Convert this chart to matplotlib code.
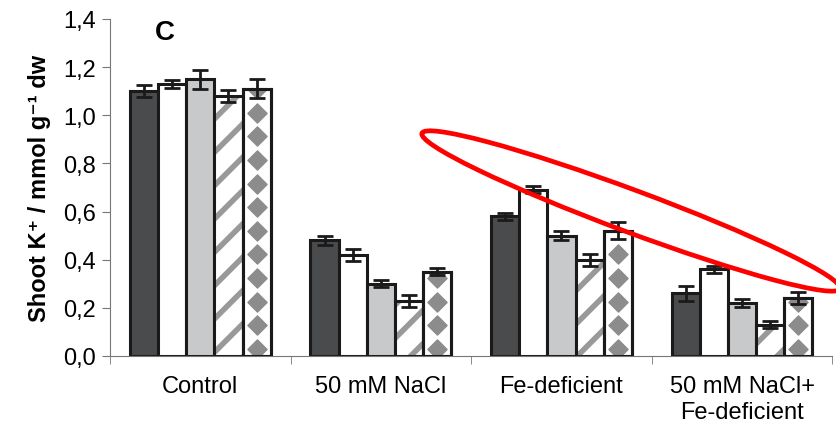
import numpy as np
import matplotlib.pyplot as plt
from matplotlib.patches import Ellipse

plt.rcParams['font.family'] = ['Liberation Sans', 'DejaVu Sans']
plt.rcParams['hatch.linewidth'] = 4.0

groups = ["Control", "50 mM NaCl", "Fe-deficient", "50 mM NaCl+\nFe-deficient"]
s1 = [1.10, 0.48, 0.58, 0.26]
s2 = [1.13, 0.42, 0.69, 0.36]
s3 = [1.15, 0.30, 0.50, 0.22]
s4 = [1.08, 0.23, 0.40, 0.13]
s5 = [1.11, 0.35, 0.52, 0.24]
e1 = [0.025, 0.02, 0.015, 0.03]
e2 = [0.015, 0.025, 0.015, 0.015]
e3 = [0.04, 0.015, 0.02, 0.015]
e4 = [0.025, 0.025, 0.025, 0.015]
e5 = [0.04, 0.015, 0.035, 0.025]

fig = plt.figure(figsize=(8.36, 4.31), dpi=100)
ax = fig.add_axes([0.1316, 0.1717, 0.864, 0.782])

x = np.arange(len(groups))
w = 0.156
series = [s1, s2, s3, s4, s5]
errs = [e1, e2, e3, e4, e5]
faces = ["#4a4b4d", "white", "#c8c9cb", "white", "white"]
hatches = [None, None, None, "/", None]

for i, (vals, err) in enumerate(zip(series, errs)):
    pos = x + (i - 2) * w
    bars = ax.bar(pos, vals, w, color=faces[i], edgecolor="#1a1a1a",
                  linewidth=2.2, zorder=2)
    if hatches[i]:
        for b in bars:
            b.set_hatch(hatches[i])
            b._hatch_color = (0.6, 0.6, 0.6, 1.0)
    if i == 4:
        # column of grey diamonds inside each bar
        for b in bars:
            ys = np.arange(0.03, b.get_height(), 0.098)
            dots = ax.scatter(np.full(len(ys), b.get_x() + w / 2), ys,
                              marker="D", s=95, color="#8c8c8c", zorder=2.5)
            dots.set_clip_path(b)
            ax.bar(b.get_x() + w / 2, b.get_height(), w, color="none",
                   edgecolor="#1a1a1a", linewidth=2.2, zorder=3)
    ax.errorbar(pos, vals, yerr=err, fmt="none", ecolor="#1a1a1a",
                elinewidth=2, capsize=6, capthick=2, zorder=4)

ax.set_xlim(-0.5, 3.5)
ax.set_ylim(0, 1.4)
ax.set_yticks(np.arange(0, 1.41, 0.2))
ax.set_yticklabels([f"{v:.1f}".replace(".", ",") for v in np.arange(0, 1.41, 0.2)])
ax.set_xticks(x)
ax.set_xticklabels(groups, linespacing=1.2)
ax.set_xticks(np.arange(-0.5, 3.6, 1), minor=True)
ax.tick_params(axis="x", which="major", length=0, labelsize=17, pad=14)
ax.tick_params(axis="x", which="minor", length=6, color="#777777")
ax.tick_params(axis="y", length=6, color="#777777", labelsize=17, pad=4)
for s in ["top", "right"]:
    ax.spines[s].set_visible(False)
for s in ["left", "bottom"]:
    ax.spines[s].set_color("#777777")
ax.set_ylabel("Shoot K\u207a / mmol g\u207b\u00b9 dw", fontsize=17,
              fontweight="bold", labelpad=9)
ax.text(0.062, 1.0, "C", transform=ax.transAxes, fontsize=20,
        fontweight="bold", va="top", ha="left")

# red ellipse drawn over the plot in figure inches
ring = Ellipse((6.31, 2.19), 4.46, 0.42, angle=-20.4, fill=False,
               edgecolor="red", linewidth=3.4, transform=fig.dpi_scale_trans,
               clip_on=False, zorder=10)
fig.add_artist(ring)

fig.savefig("out.png", dpi=100)
